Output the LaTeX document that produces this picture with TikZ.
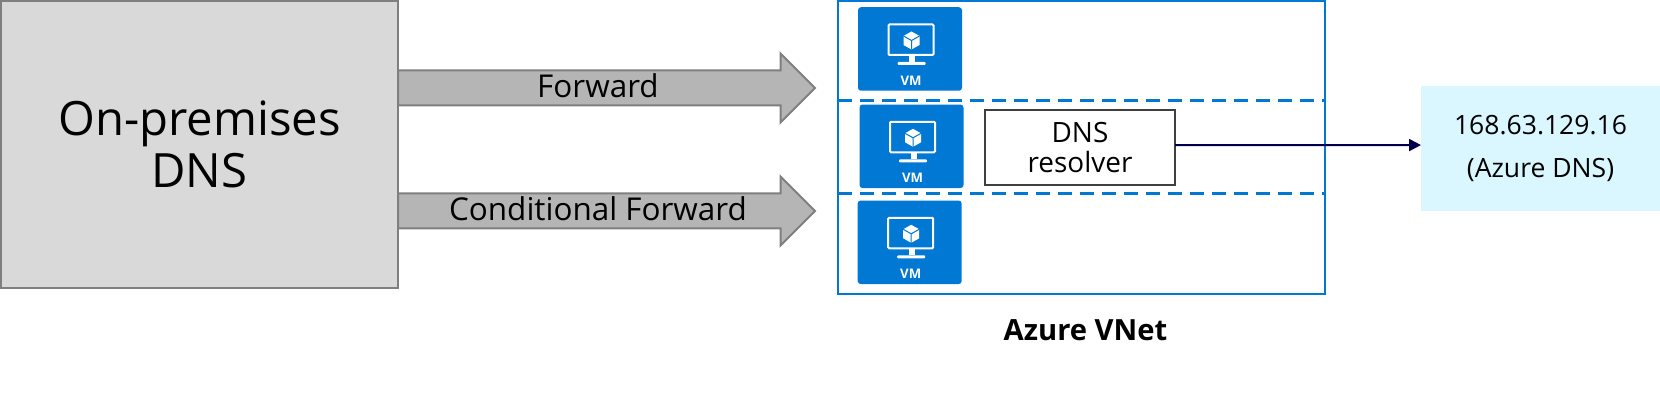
\documentclass[tikz,border=0pt]{standalone}
\usepackage{fontspec}
\setmainfont{Open Sans}
\usetikzlibrary{arrows.meta,shapes.arrows}
\definecolor{azureblue}{HTML}{0078D4}
\definecolor{edgegray}{HTML}{7F7F7F}
\definecolor{navyline}{HTML}{00004D}
\definecolor{dnscyan}{HTML}{DAF7FF}
\tikzset{
  onprembox/.style={draw=edgegray,fill=black!15,line width=0.4mm,outer sep=0pt,inner sep=0pt,
    minimum width=79.4mm,minimum height=57.4mm,align=center,font=\fontsize{26.9}{30}\selectfont},
  blockarrow/.style={single arrow,draw=edgegray,fill=black!29,line width=0.4mm,outer sep=0pt,anchor=tail,
    inner sep=3.3mm,single arrow head extend=3.4mm,minimum width=13.4mm,minimum height=83.4mm},
  flowlabel/.style={anchor=base,inner sep=0pt,font=\fontsize{17.9}{20}\selectfont},
  vnetbox/.style={draw=azureblue,line width=0.4mm,outer sep=0pt,inner sep=0pt,
    minimum width=97.4mm,minimum height=58.6mm},
  vnetsplit/.style={draw=azureblue,line width=0.6mm,dash pattern=on 2.8mm off 1.6mm},
  vmbox/.style={fill=azureblue,rounded corners=0.6mm,inner sep=0pt,
    minimum width=20.8mm,minimum height=16.7mm},
  resolverbox/.style={draw=black!75,fill=white,line width=0.4mm,outer sep=0pt,inner sep=0pt,
    minimum width=38mm,minimum height=15mm,align=center,font=\fontsize{15.9}{17}\selectfont},
  ipbox/.style={fill=dnscyan,outer sep=0pt,inner sep=0pt,minimum width=47.8mm,minimum height=24.9mm,
    align=center,font=\fontsize{15.1}{24.7}\selectfont},
  vmicon/.pic={
    \draw [white,line width=0.4mm,rounded corners=0.2mm] (-21.5,-24.5) rectangle (23.5,6);
    \fill [white] (-1,6) rectangle (5,13);
    \fill [white,rounded corners=0.2mm] (-12.5,13) rectangle (15.5,16);
    \fill [white] (1.5,-17.5) -- (9.5,-13) -- (9.5,-4) -- (1.5,0.5) -- (-6.5,-4) -- (-6.5,-13) -- cycle;
    \draw [azureblue,line width=0.2mm] (-6.5,-13) -- (1.5,-8.5) -- (9.5,-13) (1.5,-8.5) -- (1.5,0.5);
    \node [white,inner sep=0pt,font=\bfseries\fontsize{7.5}{8}\selectfont] at (1,31.5) {VM};
  }
}
\begin{document}
\begin{tikzpicture}[x=0.2mm,y=-0.2mm]
\useasboundingbox (0,0) rectangle (1660,414);
% left side
\node [blockarrow] (fwdarrow) at (398,88) {};
\node [blockarrow] (condarrow) at (398,211) {};
\node [onprembox] (onprem) at (199.5,144.5) {On-premises\\DNS};
\node [flowlabel] (fwdlabel) at (598,97.7) {Forward};
\node [flowlabel] (condlabel) at (598,220.7) {Conditional Forward};
% vnet
\node [vnetbox] (vnet) at (1081.5,147.5) {};
\coordinate (split1) at (1081.5,101);
\coordinate (split2) at (1081.5,194);
\draw [vnetsplit] (vnet.west |- split1) -- (vnet.east |- split1);
\draw [vnetsplit] (vnet.west |- split2) -- (vnet.east |- split2);
\node [vmbox] (vm1) at (910,49) {};
\node [vmbox] (vm2) at (911.5,146.3) {};
\node [vmbox] (vm3) at (909.7,242.3) {};
\pic at (vm1) {vmicon};
\pic at (vm2) {vmicon};
\pic at (vm3) {vmicon};
\node [resolverbox] (resolver) at (1080,147.5) {DNS\\resolver};
\node [anchor=base,inner sep=0pt,font=\bfseries\fontsize{16.6}{20}\selectfont] (vnetlabel) at (1085.5,341) {Azure VNet};
% azure dns
\node [ipbox] (azuredns) at (1540.5,148.4) {168.63.129.16\\(Azure DNS)};
\draw [navyline,line width=0.4mm,-{Triangle[length=2.4mm,width=2.4mm]}] ([yshift=1.4pt]resolver.east) -- ([yshift=1.9pt]azuredns.west);
\end{tikzpicture}
\end{document}
